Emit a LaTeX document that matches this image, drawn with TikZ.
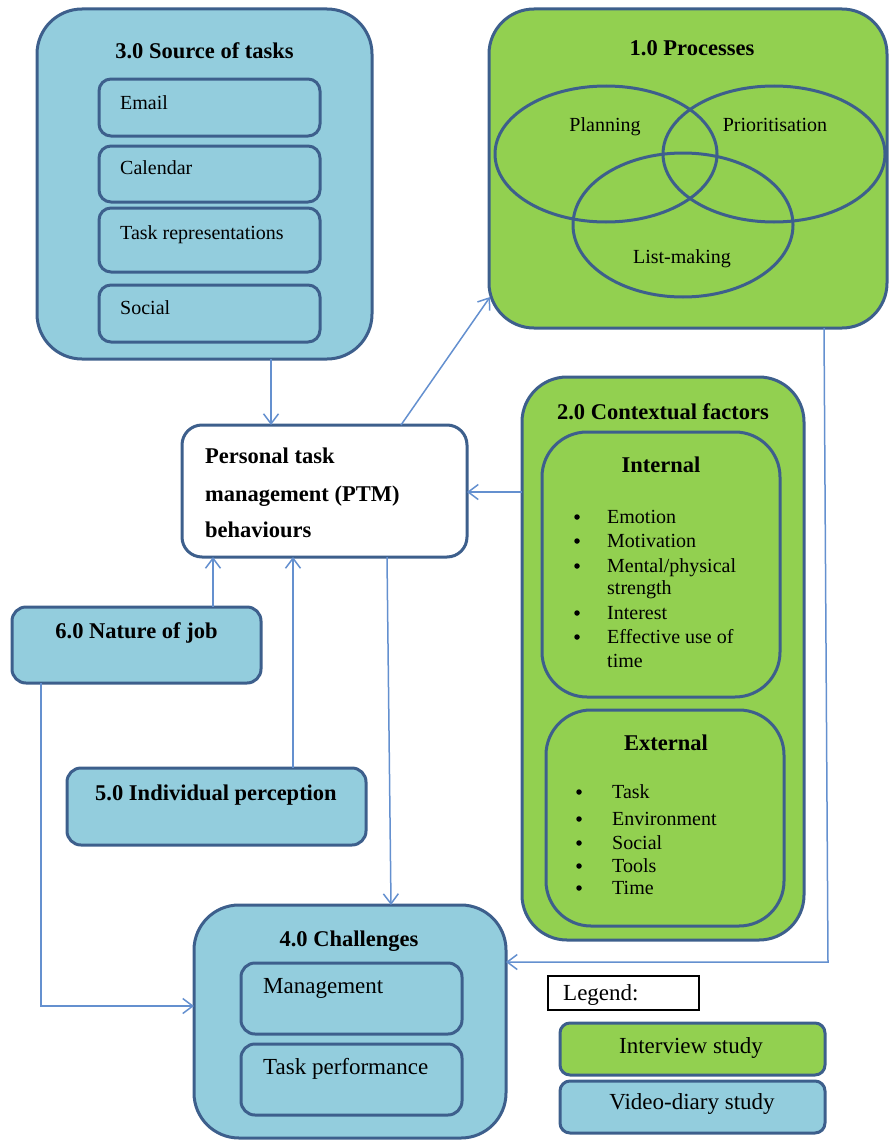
\documentclass[tikz,border=0pt]{standalone}
\usepackage{fontspec}
\setmainfont{Liberation Serif}
\usetikzlibrary{arrows.meta,shapes.geometric}

\definecolor{edge}{HTML}{3D5F8C}
\definecolor{boxblue}{HTML}{93CDDD}
\definecolor{boxgreen}{HTML}{92D050}
\definecolor{link}{HTML}{6490CF}

\tikzset{
  panel/.style={draw=edge, line width=3pt, rounded corners=#1, inner sep=0pt, outer sep=0pt},
  panel/.default=45pt,
  bluepanel/.style={panel=#1, fill=boxblue},
  bluepanel/.default=45pt,
  greenpanel/.style={panel=#1, fill=boxgreen},
  greenpanel/.default=45pt,
  oval/.style={ellipse, draw=edge, line width=3pt, inner sep=0pt, outer sep=0pt},
  heading/.style={inner sep=0pt, font=\fontsize{22.5}{27}\selectfont\bfseries, text height=15.75pt, text depth=4.5pt},
  label/.style={inner sep=0pt, font=\fontsize{20}{24}\selectfont, text height=14pt, text depth=4pt},
  biglabel/.style={inner sep=0pt, font=\fontsize{23}{27}\selectfont, text height=16pt, text depth=4.6pt},
  dot/.style={circle, fill=black, inner sep=0pt, minimum size=5.5pt},
  conn/.style={draw=link, line width=1.5pt, -{Straight Barb[length=10pt,width=15pt,line width=1.5pt]}},
}

\begin{document}
\begin{tikzpicture}[x=1pt,y=-1pt]
\useasboundingbox (0,0) rectangle (889,1140);

% 3.0 Source of tasks
\node[bluepanel, minimum width=335pt, minimum height=350pt] (src) at (204.5,184) {};
\node[heading] (srcT) at (204.5,53) {3.0 Source of tasks};
\node[bluepanel=12pt, minimum width=221pt, minimum height=57pt] (email) at (209.5,107.5) {};
\node[bluepanel=12pt, minimum width=221pt, minimum height=56pt] (cal) at (209.5,174) {};
\node[bluepanel=12pt, minimum width=221pt, minimum height=64pt] (taskrep) at (209.5,240) {};
\node[bluepanel=12pt, minimum width=221pt, minimum height=57pt] (social) at (209.5,313.5) {};
\node[label, anchor=west] (emailT) at (120,104) {Email};
\node[label, anchor=west] (calT) at (120,169) {Calendar};
\node[label, anchor=west] (taskrepT) at (120,234) {Task representations};
\node[label, anchor=west] (socialT) at (120,309) {Social};

% 1.0 Processes
\node[greenpanel, minimum width=398pt, minimum height=319pt] (proc) at (688,168.5) {};
\node[heading] (procT) at (692,50) {1.0 Processes};
\node[oval, minimum width=222pt, minimum height=136pt] (plan) at (606,154) {};
\node[oval, minimum width=222pt, minimum height=136pt] (prio) at (774,154) {};
\node[oval, minimum width=220pt, minimum height=144pt] (list) at (683,225) {};
\node[label] (planT) at (605,126) {Planning};
\node[label] (prioT) at (775,126) {Prioritisation};
\node[label] (listT) at (682,258) {List-making};

% Personal task management
\node[panel=20pt, fill=white, minimum width=285pt, minimum height=132pt] (ptm) at (324.5,491) {};
\node[heading, anchor=west] (ptm1) at (205,458) {Personal task};
\node[heading, anchor=west] (ptm2) at (205,496) {management (PTM)};
\node[heading, anchor=west] (ptm3) at (205,532) {behaviours};

% 2.0 Contextual factors
\node[greenpanel, minimum width=282pt, minimum height=563pt] (ctx) at (663,658.5) {};
\node[heading] (ctxT) at (663,414) {2.0 Contextual factors};
\node[greenpanel, minimum width=238pt, minimum height=265pt] (intl) at (661,564.5) {};
\node[heading] (intlT) at (661,467) {Internal};
\foreach \y/\t/\b in {517/Emotion/1, 541/Motivation/1, 566/Mental\slash physical/1,
                      588/strength/0, 613/Interest/1, 637/Effective use of/1, 661/time/0} {
  \ifnum\b=1 \node[dot] at (577,\y) {}; \fi
  \node[label, anchor=west] at (607,\y+1) {\t};
}
\node[greenpanel, minimum width=238pt, minimum height=216pt] (extl) at (665,818) {};
\node[heading] (extlT) at (666,745) {External};
\foreach \y/\t in {792/Task, 819/Environment, 843/Social, 866/Tools, 888/Time} {
  \node[dot] at (579,\y) {};
  \node[label, anchor=west] at (612,\y+1) {\t};
}

% 6.0 and 5.0
\node[bluepanel=14pt, minimum width=249pt, minimum height=76pt] (job) at (136.5,645) {};
\node[heading] (jobT) at (136.5,633) {6.0 Nature of job};
\node[bluepanel=14pt, minimum width=299pt, minimum height=77pt] (indiv) at (216.5,806.5) {};
\node[heading] (indivT) at (216,795) {5.0 Individual perception};

% 4.0 Challenges
\node[bluepanel, minimum width=312pt, minimum height=233pt] (chal) at (350,1021.5) {};
\node[heading] (chalT) at (349,941) {4.0 Challenges};
\node[bluepanel=14pt, minimum width=221pt, minimum height=71pt] (mgmt) at (351.5,998.5) {};
\node[bluepanel=14pt, minimum width=221pt, minimum height=71pt] (perf) at (351.5,1079.5) {};
\node[biglabel, anchor=west] (mgmtT) at (263,988) {Management};
\node[biglabel, anchor=west] (perfT) at (263,1069) {Task performance};

% Legend
\node[draw=black, line width=1.5pt, fill=white, minimum width=151pt, minimum height=34pt, inner sep=0pt] (legend) at (623.5,993) {};
\node[biglabel, anchor=west] (legendT) at (563,995) {Legend:};
\node[greenpanel=10pt, minimum width=265pt, minimum height=52pt] (legInt) at (692.5,1049) {};
\node[biglabel] (legIntT) at (691,1048) {Interview study};
\node[bluepanel=10pt, minimum width=265pt, minimum height=52pt] (legVid) at (692.5,1107) {};
\node[biglabel] (legVidT) at (692,1104) {Video-diary study};

% connectors
\coordinate (jobbend) at (41,1006);
\coordinate (procbend) at (828,962);
\draw[conn] (271,0 |- src.south) -- (271,0 |- ptm.north);
\draw[conn] (401,0 |- ptm.north) -- ([shift={(1,-31)}]proc.south west);
\draw[conn] (ctx.west |- 0,492) -- (ptm.east |- 0,492);
\draw[conn] (213,0 |- job.north) -- (213,0 |- ptm.south);
\draw[conn] (293,0 |- indiv.north) -- (293,0 |- ptm.south);
\draw[conn] (387,0 |- ptm.south) -- (391,0 |- chal.north);
\draw[conn] (41,0 |- job.south) -- (jobbend) -- (chal.west |- jobbend);
\draw[conn] (824,0 |- proc.south) -- (procbend) -- (chal.east |- procbend);
\end{tikzpicture}
\end{document}
